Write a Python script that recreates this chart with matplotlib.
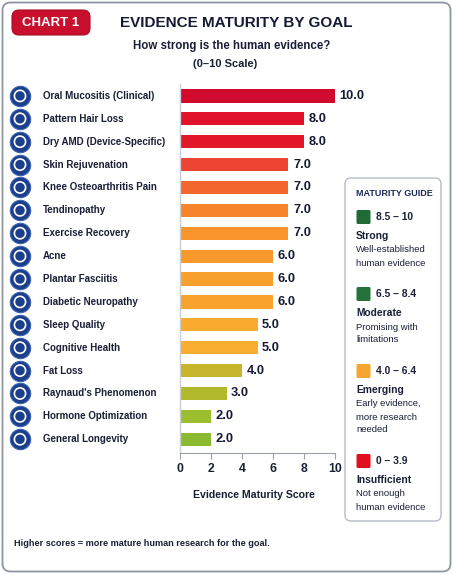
import matplotlib
matplotlib.use('Agg')
import matplotlib.pyplot as plt
from matplotlib.patches import FancyBboxPatch
from matplotlib import transforms

plt.rcParams['font.family'] = ['Liberation Sans', 'DejaVu Sans']

# ---------------- data ----------------
goals = [
    "Oral Mucositis (Clinical)", "Pattern Hair Loss", "Dry AMD (Device-Specific)",
    "Skin Rejuvenation", "Knee Osteoarthritis Pain", "Tendinopathy",
    "Exercise Recovery", "Acne", "Plantar Fasciitis", "Diabetic Neuropathy",
    "Sleep Quality", "Cognitive Health", "Fat Loss", "Raynaud's Phenomenon",
    "Hormone Optimization", "General Longevity",
]
scores = [10.0, 8.0, 8.0, 7.0, 7.0, 7.0, 7.0, 6.0, 6.0, 6.0, 5.0, 5.0, 4.0, 3.0, 2.0, 2.0]
bar_colors = [
    "#cf0a2c", "#e0122a", "#e3172a", "#ee4532", "#f2652d", "#f5842b",
    "#f7942b", "#f8992c", "#f8a02d", "#f8a32e", "#f9ab2f", "#f9ad30",
    "#c6b52c", "#b0b82c", "#9cbd2e", "#8bba30",
]
xticks = [0, 2, 4, 6, 8, 10]

guide_ranges = ["8.5 \u2013 10", "6.5 \u2013 8.4", "4.0 \u2013 6.4", "0 \u2013 3.9"]
guide_levels = ["Strong", "Moderate", "Emerging", "Insufficient"]
guide_desc = [
    ["Well-established", "human evidence"],
    ["Promising with", "limitations"],
    ["Early evidence,", "more research", "needed"],
    ["Not enough", "human evidence"],
]
guide_colors = ["#1f6b35", "#23733a", "#f7a531", "#e0101e"]

NAVY = "#1a1f36"
W, H = 453, 575

fig = plt.figure(figsize=(W / 100, H / 100), dpi=100)

# background (pixel coordinates)
bg = fig.add_axes([0, 0, 1, 1], zorder=0)
bg.set_xlim(0, W)
bg.set_ylim(H, 0)
bg.axis('off')

bg.add_patch(FancyBboxPatch((2.5, 2.5), W - 5, H - 6,
                            boxstyle="round,pad=0,rounding_size=8",
                            fc="white", ec="#8f96a3", lw=1.3))
bg.add_patch(FancyBboxPatch((12, 10), 78, 25,
                            boxstyle="round,pad=0,rounding_size=7",
                            fc="#c8102e", ec="#a50d24", lw=0.8))
bg.text(51, 23, "CHART 1", color="white", fontsize=9.5, fontweight="bold",
        ha="center", va="center")
bg.text(236, 23, "EVIDENCE MATURITY BY GOAL", color="#141a33", fontsize=11,
        fontweight="bold", ha="center", va="center")
bg.text(232, 46, "How strong is the human evidence?", color=NAVY, fontsize=8.3,
        fontweight="bold", ha="center", va="center")
bg.text(225, 64, "(0\u201310 Scale)", color=NAVY, fontsize=8.0,
        fontweight="bold", ha="center", va="center")
bg.text(14, 543, "Higher scores = more mature human research for the goal.",
        color=NAVY, fontsize=6.6, fontweight="bold", ha="left", va="center")

# ---------------- chart ----------------
px_per_unit = 15.5
ax_left, ax_top, ax_bottom = 180, 84, 453
ax = fig.add_axes([ax_left / W, 1 - ax_bottom / H, 12 * px_per_unit / W,
                   (ax_bottom - ax_top) / H], zorder=2)
ax.set_facecolor('none')
ypos = list(range(len(goals)))
ax.barh(ypos, scores, height=0.58, color=bar_colors, edgecolor='none')
ax.set_xlim(0, 12)
ax.set_ylim(15.6, -0.52)
for s in ['top', 'right']:
    ax.spines[s].set_visible(False)
ax.spines['left'].set_color('#c9ced6')
ax.spines['left'].set_linewidth(1.0)
ax.spines['bottom'].set_color('#9aa0aa')
ax.spines['bottom'].set_bounds(0, 10)
ax.set_yticks([])
ax.set_xticks(xticks)
ax.set_xticklabels([str(t) for t in xticks], fontsize=8.8, fontweight='bold', color=NAVY)
ax.tick_params(axis='x', length=4, color='#9aa0aa', pad=3)
ax.set_xlabel('Evidence Maturity Score', fontsize=7.6, fontweight='bold',
              color=NAVY, labelpad=9)
ax.xaxis.set_label_coords((254 - ax_left) / (12 * px_per_unit), -0.1)

for y, v in zip(ypos, scores):
    ax.text(v + 0.3, y, f"{v:.1f}", va='center', ha='left', fontsize=9.3,
            fontweight='bold', color='#141a33', clip_on=False)

# labels and icons (x in pixels, y in row data)
tr = transforms.blended_transform_factory(bg.transData, ax.transData)
ax.scatter([20] * len(goals), ypos, s=215, color='#1c3f8c', edgecolors='#3a63b0',
           linewidths=0.8, transform=tr, clip_on=False, zorder=3)
ax.scatter([20] * len(goals), ypos, s=65, facecolors='none', edgecolors='white',
           linewidths=1.2, transform=tr, clip_on=False, zorder=4)
for y, g in zip(ypos, goals):
    ax.text(43, y, g, transform=tr, ha='left', va='center', fontsize=7.0,
            fontweight='bold', color=NAVY, clip_on=False)

# ---------------- guide ----------------
fg = fig.add_axes([0, 0, 1, 1], zorder=5)
fg.set_xlim(0, W)
fg.set_ylim(H, 0)
fg.axis('off')
fg.set_facecolor('none')
fg.add_patch(FancyBboxPatch((345, 178), 96, 343,
                            boxstyle="round,pad=0,rounding_size=6",
                            fc="white", ec="#b5bcc8", lw=1.0))
fg.text(356, 194, "MATURITY GUIDE", fontsize=6.5, fontweight='bold',
        color='#1c2a55', ha='left', va='center')
cy = 217
for rng, lvl, desc, col in zip(guide_ranges, guide_levels, guide_desc, guide_colors):
    fg.add_patch(FancyBboxPatch((356.5, cy - 7), 14, 14,
                                boxstyle="round,pad=0,rounding_size=1.5",
                                fc=col, ec='none'))
    fg.text(376, cy, rng, fontsize=7.4, fontweight='bold', color=NAVY,
            ha='left', va='center')
    fg.text(356, cy + 19, lvl, fontsize=7.4, fontweight='bold', color=NAVY,
            ha='left', va='center')
    for k, line in enumerate(desc):
        fg.text(356, cy + 33 + 13 * k, line, fontsize=6.8, color=NAVY,
                ha='left', va='center')
    cy += 51 + 13 * len(desc)

fig.savefig('out.png', dpi=100)
